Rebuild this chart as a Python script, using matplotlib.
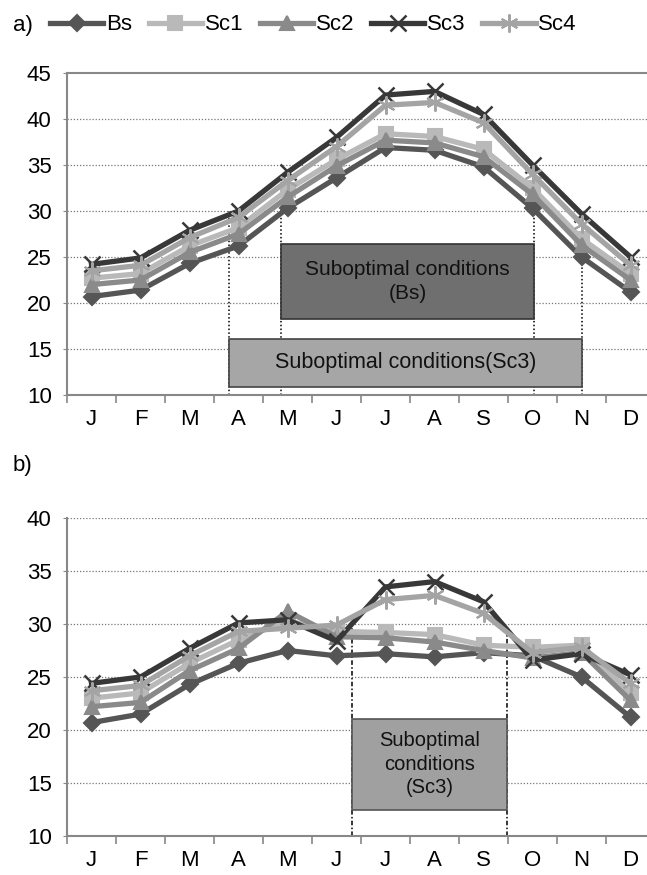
import matplotlib
matplotlib.use("Agg")
import matplotlib.pyplot as plt
from matplotlib.patches import Rectangle

months = ["J", "F", "M", "A", "M", "J", "J", "A", "S", "O", "N", "D"]
series_names = ["Bs", "Sc1", "Sc2", "Sc3", "Sc4"]

# panel a)
a_bs = [20.7, 21.4, 24.3, 26.2, 30.3, 33.6, 36.9, 36.6, 34.8, 30.3, 25.0, 21.2]
a_sc1 = [22.7, 23.2, 26.2, 28.2, 32.3, 35.6, 38.4, 38.1, 36.7, 32.5, 27.0, 23.2]
a_sc2 = [22.0, 22.5, 25.5, 27.5, 31.5, 34.9, 37.7, 37.4, 35.9, 31.8, 26.3, 22.5]
a_sc3 = [24.2, 24.9, 27.9, 30.0, 34.2, 38.0, 42.6, 43.0, 40.5, 35.0, 29.7, 25.0]
a_sc4 = [23.5, 24.1, 27.1, 29.3, 33.3, 37.0, 41.5, 41.8, 39.6, 34.0, 28.6, 24.1]

# panel b)
b_bs = [20.7, 21.5, 24.3, 26.3, 27.5, 27.0, 27.2, 26.9, 27.3, 27.0, 25.0, 21.2]
b_sc1 = [23.0, 23.5, 26.3, 28.5, 30.3, 29.3, 29.2, 29.0, 28.0, 27.8, 28.0, 23.5]
b_sc2 = [22.2, 22.6, 25.6, 27.7, 31.2, 28.8, 28.7, 28.3, 27.5, 26.8, 27.3, 22.8]
b_sc3 = [24.4, 25.0, 27.7, 30.1, 30.4, 28.4, 33.5, 34.0, 32.1, 26.6, 27.2, 25.2]
b_sc4 = [23.7, 24.2, 27.0, 29.3, 29.6, 29.9, 32.3, 32.7, 31.0, 27.3, 27.8, 24.4]

colors = ["#555555", "#b9b9b9", "#8a8a8a", "#383838", "#a4a4a4"]
markers = ["D", "s", "^", "x", (6, 2, 0)]
msizes = [8, 10, 10, 12, 13]

plt.rcParams['font.family'] = ['Liberation Sans', 'DejaVu Sans']

fig = plt.figure(figsize=(6.47, 8.75), dpi=100)
W, H = 647.0, 875.0
ax1 = fig.add_axes([67 / W, 1 - 395 / H, 588 / W, 322 / H])
ax2 = fig.add_axes([67 / W, 1 - 836 / H, 588 / W, 318 / H])

x = list(range(12))


def style(ax, ymin, ymax, top_solid):
    ax.set_xlim(-0.5, 11.5)
    ax.set_ylim(ymin, ymax)
    ax.set_yticks(range(ymin, ymax + 1, 5))
    ax.set_xticks(x)
    ax.set_xticklabels(months)
    ax.set_xticks([i - 0.5 for i in range(13)], minor=True)
    ax.tick_params(axis='x', which='major', length=0, labelsize=16, pad=10)
    ax.tick_params(axis='x', which='minor', length=6, color='#888888', width=1.2, direction='out')
    ax.tick_params(axis='y', length=3, color='#888888', labelsize=16, pad=8)
    ax.spines['right'].set_visible(False)
    ax.spines['top'].set_visible(top_solid)
    for s in ['top', 'left', 'bottom']:
        ax.spines[s].set_color('#888888')
        ax.spines[s].set_linewidth(1.5)
    for yv in range(ymin + 5, ymax + (0 if top_solid else 1), 5):
        ax.axhline(yv, color='#777777', linestyle=(0, (1, 1.5)), linewidth=0.9, zorder=0)


style(ax1, 10, 45, True)
style(ax2, 10, 40, False)

lines = []
for ax, data in [(ax1, [a_bs, a_sc1, a_sc2, a_sc3, a_sc4]), (ax2, [b_bs, b_sc1, b_sc2, b_sc3, b_sc4])]:
    hs = []
    for name, d, c, m, ms in zip(series_names, data, colors, markers, msizes):
        h, = ax.plot(x, d, color=c, linewidth=3.8, marker=m, markersize=ms,
                     markeredgecolor=c, markeredgewidth=1.5 if m != "x" else 1.8,
                     label=name, zorder=3, clip_on=False)
        hs.append(h)
    lines.append(hs)

# panel a) annotations
dot = dict(color='black', linestyle=(0, (1, 1.5)), linewidth=1.1, zorder=2)
ax1.plot([2.81, 2.81], [10, 30.0], **dot)
ax1.plot([3.87, 3.87], [10, 30.3], **dot)
ax1.plot([9.03, 9.03], [10, 30.3], **dot)
ax1.plot([10.01, 10.01], [10, 29.7], **dot)
ax1.add_patch(Rectangle((3.87, 18.3), 9.03 - 3.87, 26.4 - 18.3, facecolor='#6f6f6f',
                        edgecolor='#333333', linewidth=1.2, zorder=4))
ax1.text((3.87 + 9.03) / 2, 22.35, "Suboptimal conditions\n(Bs)", ha='center', va='center',
         fontsize=15, color='#111111', zorder=5, linespacing=1.35)
ax1.add_patch(Rectangle((2.81, 10.9), 10.01 - 2.81, 16.1 - 10.9, facecolor='#a6a6a6',
                        edgecolor='#444444', linewidth=1.2, zorder=4))
ax1.text((2.81 + 10.01) / 2, 13.5, "Suboptimal conditions(Sc3)", ha='center', va='center',
         fontsize=15.5, color='#111111', zorder=5)

# panel b) annotations
dash = dict(color='black', linestyle=(0, (3, 1.5, 1, 1.5)), linewidth=1.1, zorder=2)
ax2.plot([5.32, 5.32], [10, 30.0], **dash)
ax2.plot([8.48, 8.48], [10, 29.8], **dash)
ax2.add_patch(Rectangle((5.32, 12.5), 8.48 - 5.32, 21.0 - 12.5, facecolor='#a0a0a0',
                        edgecolor='#555555', linewidth=1.2, zorder=4))
ax2.text((5.32 + 8.48) / 2, 16.75, "Suboptimal\nconditions\n(Sc3)", ha='center', va='center',
         fontsize=14.5, color='#111111', zorder=5, linespacing=1.3)

fig.text(13 / W, 1 - 25 / H, "a)", fontsize=16, ha='left', va='center')
fig.text(13 / W, 1 - 466 / H, "b)", fontsize=16, ha='left', va='center')

fig.legend(handles=lines[0], loc='center left', bbox_to_anchor=(50 / W, 1 - 25 / H),
           ncol=5, frameon=False, fontsize=16, handlelength=2.4, handletextpad=0.12,
           columnspacing=0.75, borderaxespad=0, borderpad=0)

fig.savefig("out.png", dpi=100)
